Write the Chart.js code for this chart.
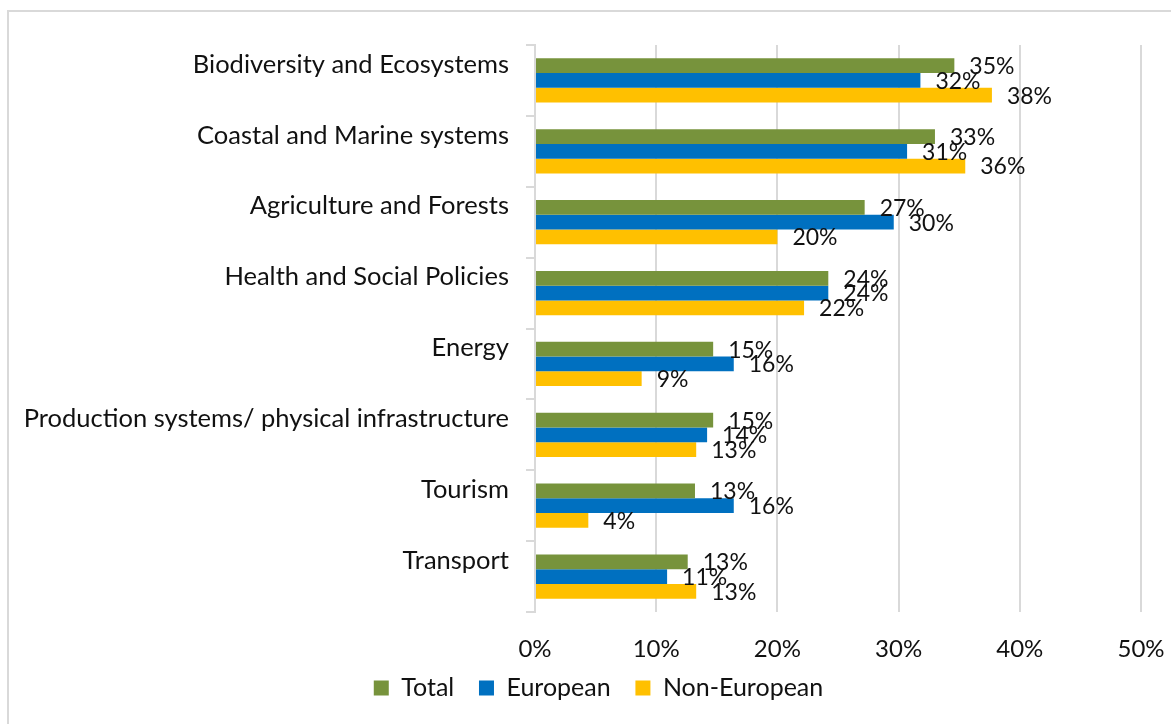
<!DOCTYPE html>
<html>
<head>
<meta charset="utf-8">
<script src="https://cdn.jsdelivr.net/npm/chart.js@4.4.0/dist/chart.umd.min.js"></script>
<style>
  body { margin: 0; overflow: hidden; background: #fff; }
  #wrap { position: relative; width: 1171px; height: 724px; }
  #frame { position: absolute; left: 7px; top: 10px; width: 1200px; height: 800px; border: 2px solid #d9d9d9; box-sizing: border-box; }
  canvas { position: absolute; left: 0; top: 0; }
</style>
</head>
<body>
<div id="wrap">
  <div id="frame"></div>
  <canvas id="grafica" width="1171" height="724"></canvas>
</div>
<script>
const categorias = [
  'Biodiversity and Ecosystems',
  'Coastal and Marine systems',
  'Agriculture and Forests',
  'Health and Social Policies',
  'Energy',
  'Production systems/ physical infrastructure',
  'Tourism',
  'Transport'
];
const total = [34.6, 33.0, 27.2, 24.2, 14.7, 14.7, 13.2, 12.6];
const europeos = [31.8, 30.7, 29.6, 24.2, 16.4, 14.2, 16.4, 10.9];
const noEuropeos = [37.7, 35.5, 20.0, 22.2, 8.8, 13.3, 4.4, 13.3];
const etiquetasTotal = ['35%', '33%', '27%', '24%', '15%', '15%', '13%', '13%'];
const etiquetasEuropeos = ['32%', '31%', '30%', '24%', '16%', '14%', '16%', '11%'];
const etiquetasNoEuropeos = ['38%', '36%', '20%', '22%', '9%', '13%', '4%', '13%'];
const ticksX = [0, 10, 20, 30, 40, 50];

const fuente = 'Lato, "Open Sans", sans-serif';
const gris = '#d9d9d9';

// etiquetas de datos al final de cada barra
const etiquetasPlugin = {
  id: 'etiquetas',
  afterDatasetsDraw(chart) {
    const ctx = chart.ctx;
    ctx.save();
    ctx.font = '23px ' + fuente;
    ctx.fillStyle = '#111';
    ctx.textAlign = 'left';
    ctx.textBaseline = 'middle';
    chart.data.datasets.forEach((ds, i) => {
      const meta = chart.getDatasetMeta(i);
      meta.data.forEach((bar, j) => {
        ctx.fillText(ds.etiquetas[j], bar.x + 15, bar.y + 1);
      });
    });
    ctx.restore();
  }
};

// mover la leyenda un poco a la derecha, como en el original
const leyendaPlugin = {
  id: 'leyendaDesplazada',
  afterLayout(chart) {
    if (chart.legend) {
      chart.legend.left += 28;
      chart.legend.right += 28;
    }
  }
};

new Chart(document.getElementById('grafica').getContext('2d'), {
  type: 'bar',
  data: {
    labels: categorias,
    datasets: [
      { label: 'Total', data: total, etiquetas: etiquetasTotal, backgroundColor: '#77933c' },
      { label: 'European', data: europeos, etiquetas: etiquetasEuropeos, backgroundColor: '#0070c0' },
      { label: 'Non-European', data: noEuropeos, etiquetas: etiquetasNoEuropeos, backgroundColor: '#ffc000' }
    ]
  },
  options: {
    indexAxis: 'y',
    responsive: false,
    animation: false,
    devicePixelRatio: 1,
    categoryPercentage: 0.623,
    barPercentage: 1,
    layout: { padding: { top: 45, right: 30, left: 0, bottom: 13.5 } },
    scales: {
      x: {
        min: 0,
        max: 50,
        afterBuildTicks: (scale) => { scale.ticks = ticksX.map(v => ({ value: v })); },
        afterFit: (scale) => {
          scale.height = 57.5;
          scale.paddingLeft = 0;
          scale.paddingRight = 0;
        },
        ticks: {
          callback: (v) => v + '%',
          font: { family: fuente, size: 24 },
          color: '#111',
          padding: 23
        },
        grid: { color: gris, lineWidth: 2, drawTicks: false },
        border: { display: false }
      },
      y: {
        afterFit: (scale) => { scale.width = 535; },
        ticks: {
          font: { family: fuente, size: 25.5 },
          color: '#111',
          labelOffset: -16,
          padding: 17
        },
        grid: { offset: true, drawOnChartArea: false, color: gris, lineWidth: 2, tickLength: 9 },
        border: { color: gris, width: 2 }
      }
    },
    plugins: {
      legend: {
        position: 'bottom',
        labels: {
          font: { family: fuente, size: 25 },
          color: '#111',
          boxWidth: 15,
          boxHeight: 15,
          padding: 6,
          // separación extra entre elementos de la leyenda
          generateLabels: (chart) => Chart.defaults.plugins.legend.labels.generateLabels(chart)
            .map((l, i, arr) => Object.assign(l, { text: i < arr.length - 1 ? l.text + '\u2003' : l.text }))
        }
      },
      tooltip: { enabled: false }
    }
  },
  plugins: [etiquetasPlugin, leyendaPlugin]
});
</script>
</body>
</html>
